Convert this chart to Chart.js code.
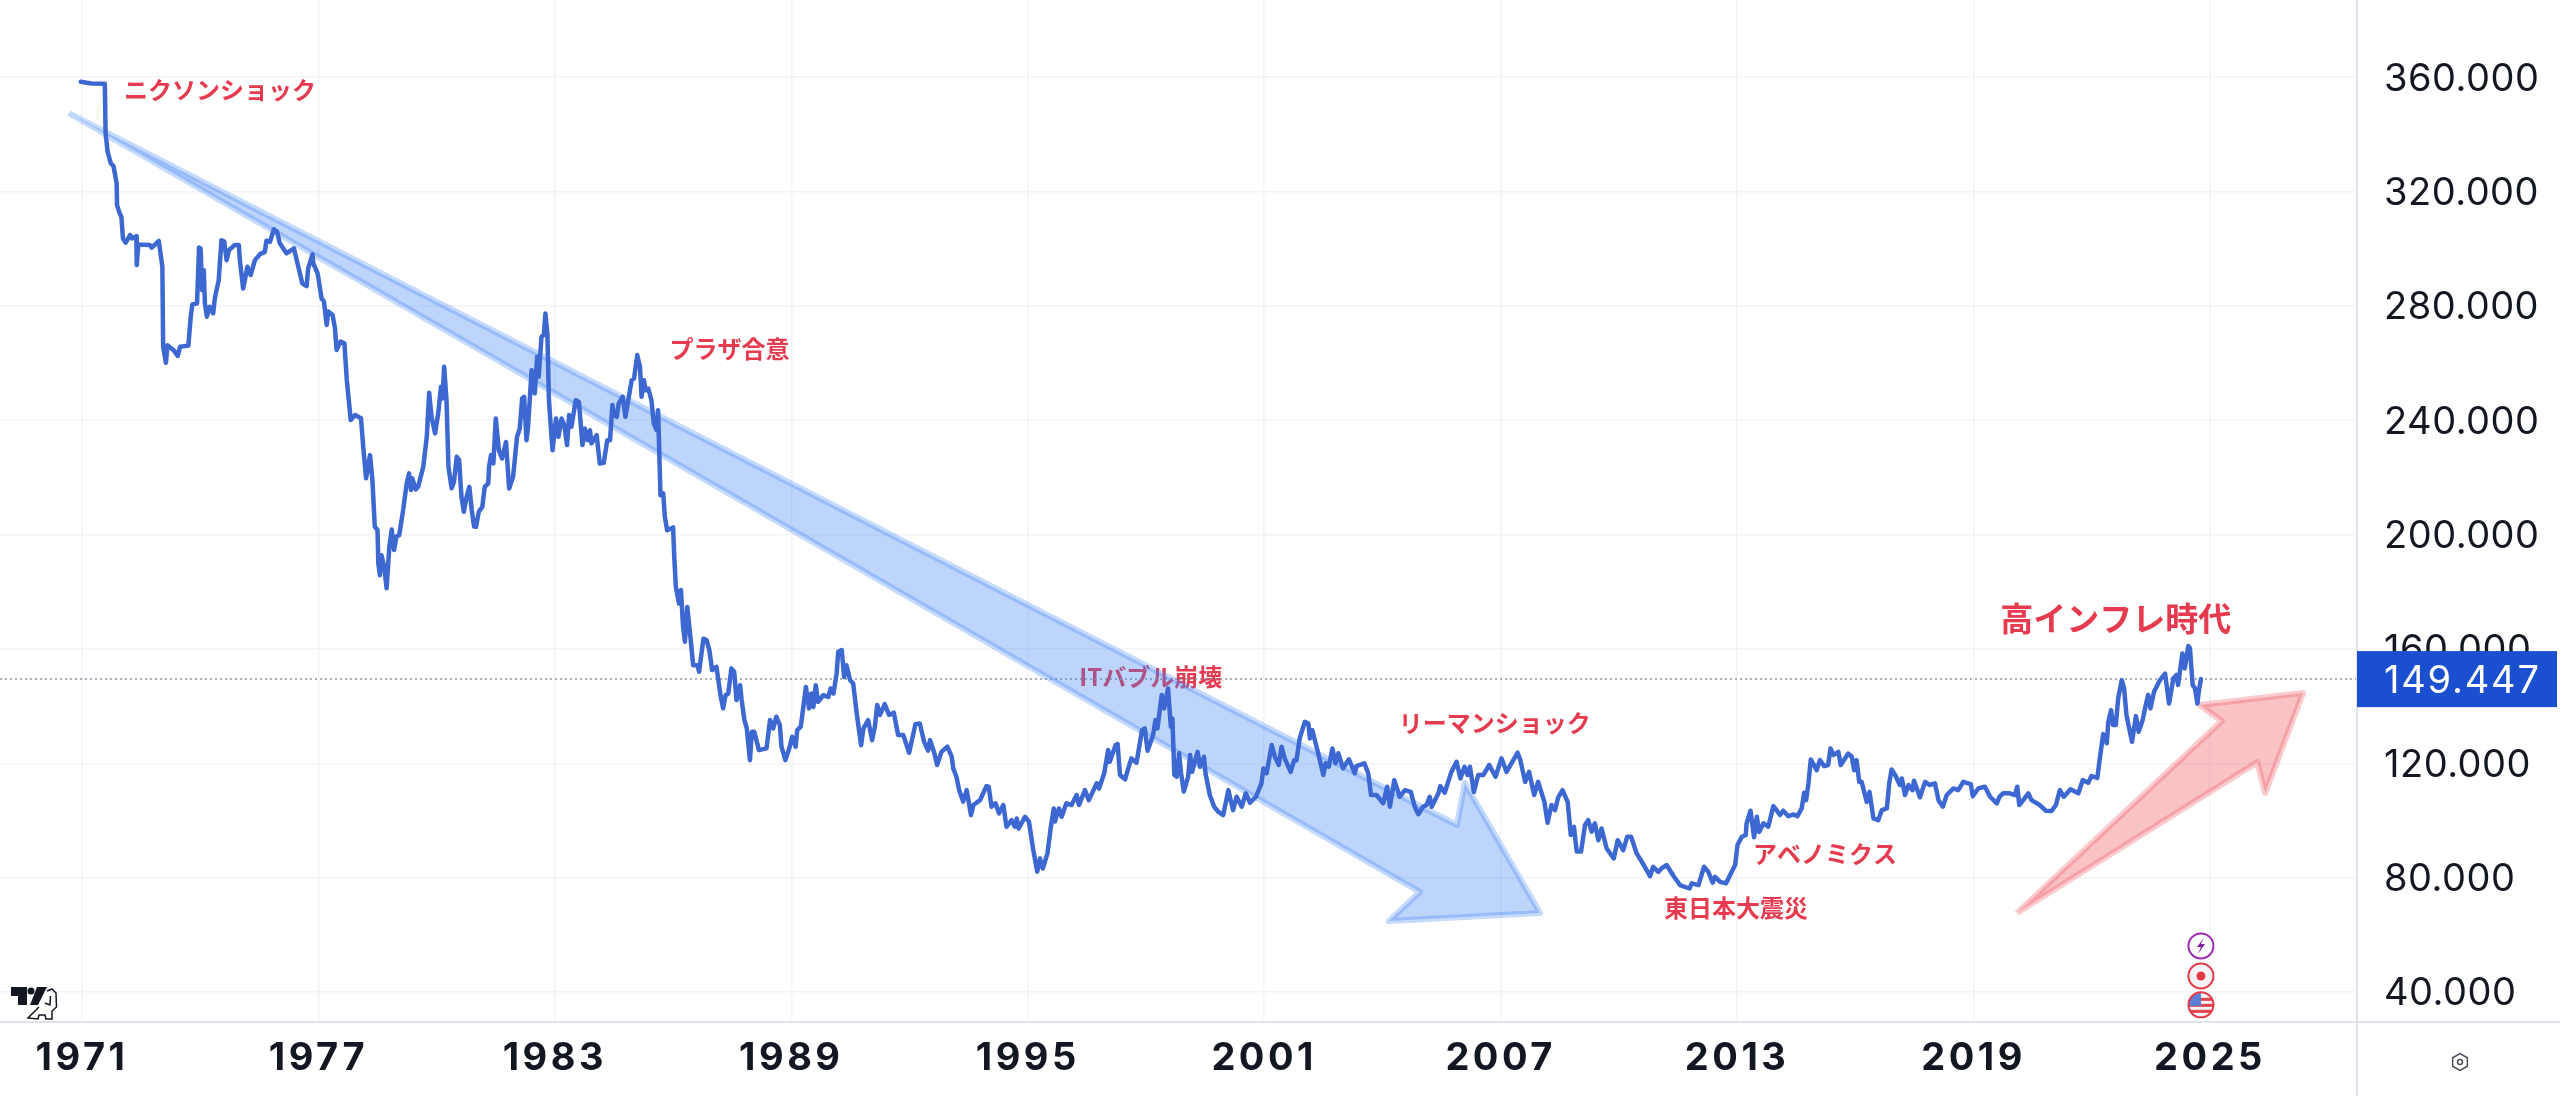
<!DOCTYPE html>
<html lang="ja">
<head>
<meta charset="utf-8">
<title>USD/JPY 1971-2025</title>
<script src="https://cdn.jsdelivr.net/npm/chart.js@4"></script>
<style>
  html, body { margin: 0; padding: 0; background: #fff; }
  canvas { display: block; }
</style>
</head>
<body>
<canvas id="myChart" width="2560" height="1096"></canvas>
<script>
// [year, rate], by period
const rates1971 = [[1970.97,358.4],[1971.24,357.8],[1971.58,357.7],[1971.6,340.3],[1971.65,334],[1971.73,329.9],[1971.8,328.9],[1971.88,322.9],[1971.89,315.3],[1971.95,312.6],[1972,311.2],[1972.04,303.6],[1972.11,302.1],[1972.22,304.8],[1972.27,303.6],[1972.38,304.4],[1972.39,294.3],[1972.43,301.5],[1972.72,301.3],[1972.77,300.4],[1972.95,302.7],[1973.04,293.7],[1973.06,265.7],[1973.13,260.1],[1973.17,266.2],[1973.32,264.6],[1973.43,262.5],[1973.49,265.7],[1973.7,266.1],[1973.76,276.2],[1973.8,280.5],[1973.92,280.9],[1973.97,300.4],[1974.01,300.1],[1974.05,285.5],[1974.09,292.5],[1974.12,280.9],[1974.17,276.2],[1974.24,279.7],[1974.33,277.4],[1974.37,282.6],[1974.47,289],[1974.54,303],[1974.61,302.5],[1974.67,296],[1974.73,299.5],[1974.88,301.3],[1974.98,301.3],[1975.01,295.5],[1975.09,286.1],[1975.2,293.7],[1975.28,290.8],[1975.39,296],[1975.52,298.1],[1975.64,298.9],[1975.68,302.8],[1975.77,302.4],[1975.87,306.8],[1975.95,306],[1976.02,301.9],[1976.19,298.4],[1976.38,300.1],[1976.5,293.1],[1976.59,287.9],[1976.7,286.9],[1976.74,293.1],[1976.85,298],[1976.87,294.9],[1976.98,291.4]];
const rates1977 = [[1977.08,282.6],[1977.14,281.5],[1977.21,273.3],[1977.25,278],[1977.36,276.8],[1977.42,272.1],[1977.46,264.6],[1977.56,267.5],[1977.66,266.9],[1977.72,254.1],[1977.82,240.1],[1977.93,241.8],[1978.08,240.7],[1978.14,230.2],[1978.21,219.7],[1978.31,227.8],[1978.37,219.1],[1978.43,202.8],[1978.5,201.6],[1978.52,189.9],[1978.56,185.8],[1978.6,192.8],[1978.67,188.8],[1978.73,181.2],[1978.8,195.8],[1978.86,201.8],[1978.92,194.6],[1978.98,199.3],[1979.05,199.8],[1979.15,208.6],[1979.24,217.9],[1979.3,221.4],[1979.35,215.6],[1979.38,219.7],[1979.47,215.8],[1979.53,216.7],[1979.66,223.7],[1979.75,234.2],[1979.81,249.6],[1979.87,241.2],[1979.96,235.4],[1980.04,242.4],[1980.11,251.7],[1980.15,247.6],[1980.19,258.7],[1980.25,247],[1980.3,223.7],[1980.38,216.2],[1980.44,218.5],[1980.51,227.2],[1980.57,226.1],[1980.63,213.2],[1980.69,208],[1980.76,213.2],[1980.83,216.7],[1980.89,208.6],[1980.95,202.8],[1981,202.7],[1981.07,208],[1981.16,209.7],[1981.22,216.7],[1981.31,217.9],[1981.33,223.7],[1981.38,227.8],[1981.44,224.9],[1981.5,240.6],[1981.58,229.5],[1981.66,226.6],[1981.76,232.4],[1981.84,216.1],[1981.94,220.2],[1982.04,234.2],[1982.11,237.1],[1982.17,247.6],[1982.22,248.2],[1982.28,233],[1982.32,237.7],[1982.41,257.5],[1982.49,249.4],[1982.55,262.2],[1982.59,255.2],[1982.66,269.2],[1982.72,269.8],[1982.76,277.3],[1982.81,270.3],[1982.85,247],[1982.94,229.5]];
const rates1983 = [[1983.03,240.6],[1983.09,234.2],[1983.17,240.6],[1983.24,238.3],[1983.31,231.3],[1983.36,241.8],[1983.42,237.7],[1983.53,247],[1983.61,246.4],[1983.7,231.3],[1983.76,237.1],[1983.83,233],[1983.89,236.5],[1983.93,231.9],[1984.06,234.8],[1984.14,224.9],[1984.24,225.1],[1984.33,233],[1984.4,233],[1984.46,245.3],[1984.5,241.8],[1984.57,241.2],[1984.62,245.9],[1984.72,248.2],[1984.79,241.2],[1984.95,254],[1985.01,254.6],[1985.09,262.8],[1985.16,258.7],[1985.2,248.2],[1985.26,254],[1985.3,250.5],[1985.37,251.1],[1985.45,247],[1985.51,238.9],[1985.58,236.5],[1985.62,243.5],[1985.65,228.4],[1985.68,213.8],[1985.75,214.4],[1985.79,206.2],[1985.85,201.5],[1986,202.5],[1986.03,192.2],[1986.07,181.7],[1986.15,175.9],[1986.2,180.6],[1986.25,168.3],[1986.3,162.5],[1986.36,174.7],[1986.43,165.4],[1986.51,154.3],[1986.62,154.3],[1986.66,152],[1986.77,163.6],[1986.85,163.1],[1986.92,159.6],[1986.99,152.6],[1987.1,153.7],[1987.21,143.2],[1987.27,139.2],[1987.33,143.8],[1987.4,144.4],[1987.48,153.2],[1987.55,152],[1987.61,142.1],[1987.7,147.3],[1987.74,142.1],[1987.81,135.1],[1987.87,132.2],[1987.95,121.1],[1988,131],[1988.06,131],[1988.18,124.6],[1988.37,125.2],[1988.46,135.1],[1988.54,132.2],[1988.62,136.3],[1988.71,133.3],[1988.75,125.8],[1988.85,121.1],[1988.96,125.8]];
const rates1989 = [[1989.02,129.3],[1989.11,125.8],[1989.15,131.6],[1989.24,132.8],[1989.3,139.2],[1989.37,146.7],[1989.45,139.2],[1989.51,144.4],[1989.56,139.7],[1989.62,147.3],[1989.68,141.5],[1989.81,143.8],[1989.94,143.2],[1990,146.2],[1990.07,144.4],[1990.15,151.4],[1990.19,159],[1990.28,159.6],[1990.34,150.2],[1990.4,154.3],[1990.49,149.1],[1990.57,147.9],[1990.66,137.4],[1990.77,126.3],[1990.83,132.2],[1990.95,135.1],[1991.05,128.1],[1991.12,132.8],[1991.18,140.4],[1991.25,136.9],[1991.37,140.7],[1991.48,136.9],[1991.6,137.7],[1991.71,129.9],[1991.84,129.9],[1991.99,123.7],[1992.15,133.7],[1992.26,133.9],[1992.37,127.5],[1992.47,124.4],[1992.52,128.1],[1992.63,123.5],[1992.7,119.4],[1992.81,124],[1992.96,125.8],[1993.07,122.3],[1993.11,118.2],[1993.19,115.3],[1993.26,110.6],[1993.36,106.6],[1993.45,110.6],[1993.56,101.9],[1993.62,105.4],[1993.79,107.1],[1993.95,112],[1994.01,111.8],[1994.08,104.8],[1994.18,106],[1994.27,102.5],[1994.38,105.4],[1994.46,97.8],[1994.59,100.1],[1994.67,97.8],[1994.72,100.7],[1994.77,97.2],[1994.93,101.3]];
const rates1995 = [[1995.03,99.6],[1995.14,89.6],[1995.24,82.1],[1995.31,86.7],[1995.38,83.2],[1995.5,88.5],[1995.58,97.2],[1995.66,104.2],[1995.69,99.6],[1995.79,104.2],[1995.86,101.3],[1995.98,106],[1996.11,105.4],[1996.24,108.9],[1996.3,105.4],[1996.45,110.6],[1996.55,107.1],[1996.75,113],[1996.81,111.2],[1996.94,116.5],[1997.04,124.6],[1997.08,120.5],[1997.23,126.4],[1997.28,126.7],[1997.34,115.9],[1997.47,114.4],[1997.55,118.2],[1997.63,121.7],[1997.76,120.2],[1997.9,131.6],[1997.97,132.2],[1998.04,124.4],[1998.18,129.9],[1998.24,135.1],[1998.29,132.2],[1998.4,143.9],[1998.46,139.2],[1998.56,146.2],[1998.63,132.8],[1998.67,135.7],[1998.72,115.9],[1998.78,115.3],[1998.84,123.5],[1998.89,116.5],[1998.96,110.1],[1999.07,115.3],[1999.12,122.9],[1999.17,117],[1999.31,124],[1999.37,118.8],[1999.47,122.3],[1999.51,116.5],[1999.62,108.9],[1999.73,104.8],[1999.83,103.1],[1999.96,101.9],[2000.09,110.6],[2000.21,103.6],[2000.3,108.3],[2000.43,104.8],[2000.53,109.5],[2000.64,106.2],[2000.79,108.3],[2000.93,113],[2000.98,118.2]];
const rates2001 = [[2001.06,116.5],[2001.19,126.4],[2001.27,122.3],[2001.37,119.4],[2001.44,125.8],[2001.52,121.7],[2001.67,117],[2001.76,121.1],[2001.82,121.1],[2001.9,128.7],[2002.03,134.5],[2002.12,133.9],[2002.16,128.7],[2002.22,131.6],[2002.37,123.5],[2002.5,115.9],[2002.56,120],[2002.64,118.8],[2002.73,125.2],[2002.81,120],[2002.88,123.5],[2003,118.2],[2003.15,121.4],[2003.3,116.5],[2003.34,119],[2003.54,120],[2003.64,116.5],[2003.71,108.9],[2003.85,108.9],[2004.02,106],[2004.12,111.8],[2004.19,104.8],[2004.3,114.1],[2004.44,108.3],[2004.57,110.6],[2004.72,110],[2004.82,104.8],[2004.91,102.2],[2005.03,104.8],[2005.12,105.4],[2005.2,108.3],[2005.25,104.8],[2005.42,109.5],[2005.47,112],[2005.58,109.7],[2005.75,117],[2005.88,120.5],[2005.98,114.7],[2006.08,118.8],[2006.16,115.9],[2006.22,118.8],[2006.32,110],[2006.43,115.9],[2006.56,115.9],[2006.71,119.4],[2006.87,115.3]];
const rates2007 = [[2007.02,121.7],[2007.15,117],[2007.43,123.7],[2007.5,121.1],[2007.62,113.5],[2007.72,117],[2007.85,108.9],[2007.95,113.5],[2008.11,106.5],[2008.19,99.2],[2008.29,105.4],[2008.38,103.6],[2008.46,108.1],[2008.57,110.6],[2008.7,106.5],[2008.78,94.9],[2008.86,97.8],[2008.93,89.1],[2009.04,89.1],[2009.14,98.4],[2009.22,100.1],[2009.31,96.1],[2009.39,99],[2009.48,93.1],[2009.56,97.2],[2009.69,90.2],[2009.87,86.7],[2009.97,93.1],[2010.11,89.6],[2010.21,94.3],[2010.31,94.3],[2010.45,88.5],[2010.58,85.6],[2010.79,80.5],[2010.87,83.8],[2011,82],[2011.08,83.2],[2011.21,84.4],[2011.4,80.3],[2011.55,77.4],[2011.79,76.2],[2011.85,78],[2012.02,77.4],[2012.16,83.8],[2012.27,82],[2012.38,78.2],[2012.44,80.3],[2012.57,78.5],[2012.72,78],[2012.86,82],[2012.95,84.4]];
const rates2013 = [[2013.01,91.4],[2013.12,94.3],[2013.22,94.9],[2013.24,99],[2013.34,103.4],[2013.43,94.1],[2013.5,101.3],[2013.56,96],[2013.67,99],[2013.79,97.8],[2013.92,105],[2014,103.6],[2014.09,101.9],[2014.17,103.4],[2014.3,101.5],[2014.43,102.1],[2014.53,101.5],[2014.64,104.2],[2014.7,109.7],[2014.75,107.1],[2014.81,112.9],[2014.87,121.3],[2014.93,119.9],[2015.02,117.6],[2015.1,121.1],[2015.21,119],[2015.31,119.4],[2015.37,125.2],[2015.44,122.9],[2015.57,124],[2015.63,119.4],[2015.82,123.4],[2015.91,122.3],[2015.97,117.6],[2016.03,121.1],[2016.1,113.5],[2016.16,113.5],[2016.29,106.5],[2016.36,110],[2016.46,100.7],[2016.58,100.1],[2016.67,103.6],[2016.8,104.2],[2016.86,113],[2016.92,117.8],[2017.01,115.9],[2017.13,112.4],[2017.18,114.7],[2017.26,108.9],[2017.35,112.4],[2017.45,110.6],[2017.49,113.9],[2017.64,108.1],[2017.77,113.5],[2017.88,112.4],[2018.02,113],[2018.11,107.1],[2018.22,104.8],[2018.32,108.9],[2018.49,111.2],[2018.61,110.6],[2018.74,113.5],[2018.93,112.7],[2018.98,108.5]];
const rates2019 = [[2019.12,111.2],[2019.29,111.8],[2019.42,108.3],[2019.59,106],[2019.66,108.3],[2019.75,109.5],[2019.92,109.5],[2020.05,108.9],[2020.11,111.8],[2020.16,105.4],[2020.26,107.1],[2020.39,109.5],[2020.47,107.1],[2020.68,105.4],[2020.83,103.4],[2020.98,103.3],[2021.09,105.4],[2021.19,110.6],[2021.29,108.3],[2021.46,110.9],[2021.66,109.5],[2021.77,114.1],[2021.91,113.2],[2021.99,115.5],[2022.14,114.9],[2022.21,122.3],[2022.29,130.2],[2022.38,127],[2022.42,134.5],[2022.49,138.6],[2022.54,133.4],[2022.61,133.4],[2022.67,142.7],[2022.76,149.1],[2022.82,146.2],[2022.88,136.9],[2023.02,127.5],[2023.12,136.5],[2023.19,131],[2023.29,135.1],[2023.37,140.4],[2023.43,143.9],[2023.49,139.2],[2023.58,145],[2023.73,149.1],[2023.86,151.4],[2023.96,140.9],[2024.07,149.7],[2024.15,150.9],[2024.19,147.4],[2024.3,158.4],[2024.36,153.2],[2024.45,161],[2024.49,160.2],[2024.56,147.4],[2024.62,146.2],[2024.68,140.9],[2024.72,145.6],[2024.77,149.447]];

const lastPrice = 149.447;
const yTicks = [40, 80, 120, 160, 200, 240, 280, 320, 360];
const xTicks = [1971, 1977, 1983, 1989, 1995, 2001, 2007, 2013, 2019, 2025];

// arrows drawn on the chart, [year, rate]
const downArrow = [[1970.67,347.4],[2005.89,98.4],[2006.09,113.1],[2008,67.6],[2004.16,64.8],[2004.95,75],[1970.67,347.4]];
const upArrow = [[2020.1,67.6],[2025.3,134.8],[2024.74,140.4],[2027.36,144.6],[2026.4,109.6],[2026.2,120.4],[2020.1,67.6]];

// red notes: [label, year, rate, size]
const notes = [
  ['ニクソンショック', 1974.5, 355.5, 24],
  ['プラザ合意', 1987.43, 264.9, 24],
  ['ITバブル崩壊', 1998.12, 150.2, 24],
  ['リーマンショック', 2006.85, 134.1, 24],
  ['東日本大震災', 2012.97, 69.4, 24],
  ['アベノミクス', 2015.23, 88.3, 24],
  ['高インフレ時代', 2022.61, 170.5, 33]
];

// event badges under the last bar
const badgeLevels = [56.1, 45.6, 35.5];

const toXY = rows => rows.map(r => ({ x: r[0], y: r[1] }));
const allRates = [].concat(rates1971, rates1977, rates1983, rates1989, rates1995, rates2001, rates2007, rates2013, rates2019);
const lastYear = allRates[allRates.length - 1][0];

const TEXT = '#131722';
const AXIS = '#e0e3eb';
const GRID = '#f3f4f7';

// no room reserved for half a tick label, the plot runs to the canvas edge
function pinAxis(axis, size) {
  if (axis.isHorizontal()) axis.height = size; else axis.width = size;
  axis.paddingTop = 0;
  axis.paddingBottom = 0;
  axis.paddingLeft = 0;
  axis.paddingRight = 0;
}

// tick labels are spaced wider than the font does by itself
function spaceLabels(axis, spacing) {
  if (axis.spaced) return;
  axis.spaced = true;
  const drawLabels = axis.drawLabels;
  axis.drawLabels = function (area) {
    axis.ctx.save();
    axis.ctx.letterSpacing = spacing;
    drawLabels.call(axis, area);
    axis.ctx.restore();
  };
}

function drawBadges(chart) {
  const { ctx, scales } = chart;
  const x = scales.x.getPixelForValue(lastYear);
  const ys = badgeLevels.map(v => scales.y.getPixelForValue(v));
  const r = 12.5;

  // purple bolt
  ctx.strokeStyle = '#9c27b0';
  ctx.lineWidth = 2;
  ctx.fillStyle = '#fff';
  ctx.beginPath(); ctx.arc(x, ys[0], r, 0, Math.PI * 2); ctx.fill(); ctx.stroke();
  ctx.fillStyle = '#7b1fa2';
  ctx.beginPath();
  ctx.moveTo(x + 3, ys[0] - 8); ctx.lineTo(x - 4, ys[0] + 1); ctx.lineTo(x, ys[0] + 1);
  ctx.lineTo(x - 3, ys[0] + 8); ctx.lineTo(x + 4, ys[0] - 2); ctx.lineTo(x, ys[0] - 2);
  ctx.closePath(); ctx.fill();

  // japan
  ctx.strokeStyle = '#e53946';
  ctx.fillStyle = '#f2f3f6';
  ctx.beginPath(); ctx.arc(x, ys[1], r, 0, Math.PI * 2); ctx.fill(); ctx.stroke();
  ctx.fillStyle = '#e53946';
  ctx.beginPath(); ctx.arc(x, ys[1], 4.5, 0, Math.PI * 2); ctx.fill();

  // usa
  ctx.save();
  ctx.beginPath(); ctx.arc(x, ys[2], r, 0, Math.PI * 2); ctx.clip();
  ctx.fillStyle = '#f2f3f6';
  ctx.fillRect(x - r, ys[2] - r, r * 2, r * 2);
  ctx.fillStyle = '#e0454f';
  ctx.fillRect(x - r, ys[2] - 7, r * 2, 3);
  ctx.fillRect(x - r, ys[2] - 1, r * 2, 3);
  ctx.fillRect(x - r, ys[2] + 5, r * 2, 3);
  ctx.fillStyle = '#5b7fd6';
  ctx.fillRect(x - r, ys[2] - r, r, r + 1);
  ctx.restore();
  ctx.strokeStyle = '#e53946';
  ctx.beginPath(); ctx.arc(x, ys[2], r, 0, Math.PI * 2); ctx.stroke();
}

function drawLogo(ctx) {
  ctx.fillStyle = TEXT;
  ctx.beginPath();
  ctx.moveTo(11, 987); ctx.lineTo(27, 987); ctx.lineTo(27, 1005); ctx.lineTo(18, 1005);
  ctx.lineTo(18, 996); ctx.lineTo(11, 996); ctx.closePath(); ctx.fill();
  ctx.beginPath(); ctx.arc(31, 991, 3.5, 0, Math.PI * 2); ctx.fill();
  ctx.beginPath();
  ctx.moveTo(37, 987); ctx.lineTo(47, 987); ctx.lineTo(38, 1005); ctx.lineTo(30, 1005);
  ctx.closePath(); ctx.fill();
  // the little dino
  ctx.strokeStyle = TEXT;
  ctx.lineWidth = 1.5;
  ctx.beginPath();
  ctx.moveTo(47, 991); ctx.lineTo(52, 989); ctx.lineTo(56, 993); ctx.lineTo(56.5, 1007);
  ctx.lineTo(52, 1011); ctx.lineTo(52, 1019); ctx.lineTo(46, 1019); ctx.lineTo(45, 1015);
  ctx.lineTo(39, 1015); ctx.lineTo(38, 1019); ctx.lineTo(28, 1018); ctx.lineTo(39, 1007);
  ctx.moveTo(45, 1003); ctx.lineTo(50, 1005); ctx.lineTo(50.5, 996);
  ctx.stroke();
}

const overlays = {
  id: 'overlays',
  // notes go under the arrows
  beforeDatasetsDraw(chart) {
    const { ctx, scales } = chart;
    ctx.save();
    ctx.textAlign = 'center';
    ctx.textBaseline = 'middle';
    ctx.fillStyle = '#e63a4e';
    notes.forEach(n => {
      ctx.font = '700 ' + n[3] + 'px "Noto Sans CJK JP"';
      ctx.fillText(n[0], scales.x.getPixelForValue(n[1]), scales.y.getPixelForValue(n[2]));
    });
    ctx.restore();
  },
  afterDraw(chart) {
    const { ctx, scales, chartArea, width, height } = chart;
    ctx.save();

    // axis lines run on past the plot
    ctx.strokeStyle = AXIS;
    ctx.lineWidth = 2;
    ctx.beginPath();
    ctx.moveTo(chartArea.right, 0); ctx.lineTo(chartArea.right, height);
    ctx.moveTo(0, chartArea.bottom); ctx.lineTo(width, chartArea.bottom);
    ctx.stroke();

    // last price tag
    const py = scales.y.getPixelForValue(lastPrice);
    ctx.fillStyle = '#1a4fd0';
    ctx.fillRect(chartArea.right, py - 28, 200, 56);
    ctx.fillStyle = '#fff';
    ctx.font = '38px Inter';
    ctx.letterSpacing = '1.8px';
    ctx.textAlign = 'left';
    ctx.textBaseline = 'middle';
    ctx.fillText(lastPrice.toFixed(3), chartArea.right + 27, py + 2);
    ctx.letterSpacing = '0px';

    // settings hexagon
    const hx = chartArea.right + 103, hy = chartArea.bottom + 40;
    ctx.strokeStyle = '#4a4e59';
    ctx.lineWidth = 1.5;
    ctx.beginPath();
    for (let i = 0; i < 6; i++) {
      const a = Math.PI / 6 + i * Math.PI / 3;
      ctx.lineTo(hx + 8.5 * Math.cos(a), hy + 8.5 * Math.sin(a));
    }
    ctx.closePath(); ctx.stroke();
    ctx.beginPath(); ctx.arc(hx, hy, 2.5, 0, Math.PI * 2); ctx.stroke();

    drawBadges(chart);
    drawLogo(ctx);
    ctx.restore();
  }
};

const ctx = document.getElementById('myChart').getContext('2d');
const myChart = new Chart(ctx, {
  type: 'line',
  data: {
    datasets: [
      {
        data: toXY(allRates),
        borderColor: '#3d68d2',
        borderWidth: 4.5,
        borderJoinStyle: 'round',
        borderCapStyle: 'round',
        pointRadius: 0,
        tension: 0,
        fill: false
      },
      {
        data: toXY(upArrow),
        borderColor: 'rgba(239,83,92,0.3)',
        backgroundColor: 'rgba(239,83,92,0.35)',
        borderWidth: 6,
        borderJoinStyle: 'round',
        pointRadius: 0,
        tension: 0,
        fill: 'shape'
      },
      {
        data: toXY(downArrow),
        borderColor: 'rgba(66,133,244,0.3)',
        backgroundColor: 'rgba(66,133,244,0.35)',
        borderWidth: 6,
        borderJoinStyle: 'round',
        pointRadius: 0,
        tension: 0,
        fill: 'shape'
      },
      {
        data: [{ x: 1968.92, y: lastPrice }, { x: 2028.73, y: lastPrice }],
        borderColor: '#8e93a3',
        borderWidth: 1.5,
        borderDash: [2, 3],
        pointRadius: 0,
        fill: false
      }
    ]
  },
  options: {
    responsive: false,
    animation: false,
    layout: { padding: 0 },
    plugins: { legend: { display: false }, tooltip: { enabled: false } },
    scales: {
      x: {
        type: 'linear',
        min: 1968.92,
        max: 2028.73,
        afterBuildTicks: axis => { axis.ticks = xTicks.map(v => ({ value: v })); },
        afterFit: axis => { pinAxis(axis, 74); spaceLabels(axis, '3.5px'); },
        grid: { color: GRID, lineWidth: 1.5, drawTicks: false },
        border: { display: false },
        ticks: {
          autoSkip: false,
          maxRotation: 0,
          padding: 14,
          color: TEXT,
          font: { family: 'Inter', size: 38, weight: '700' },
          callback: v => String(v)
        }
      },
      y: {
        position: 'right',
        min: 29.5,
        max: 387,
        afterBuildTicks: axis => { axis.ticks = yTicks.map(v => ({ value: v })); },
        afterFit: axis => { pinAxis(axis, 203); spaceLabels(axis, '0.5px'); },
        grid: { color: GRID, lineWidth: 1.5, drawTicks: false },
        border: { display: false },
        ticks: {
          autoSkip: false,
          padding: 27,
          labelOffset: 2,
          color: TEXT,
          font: { family: 'Inter', size: 38, weight: '400' },
          callback: v => v.toFixed(3)
        }
      }
    }
  },
  plugins: [overlays]
});
</script>
</body>
</html>
